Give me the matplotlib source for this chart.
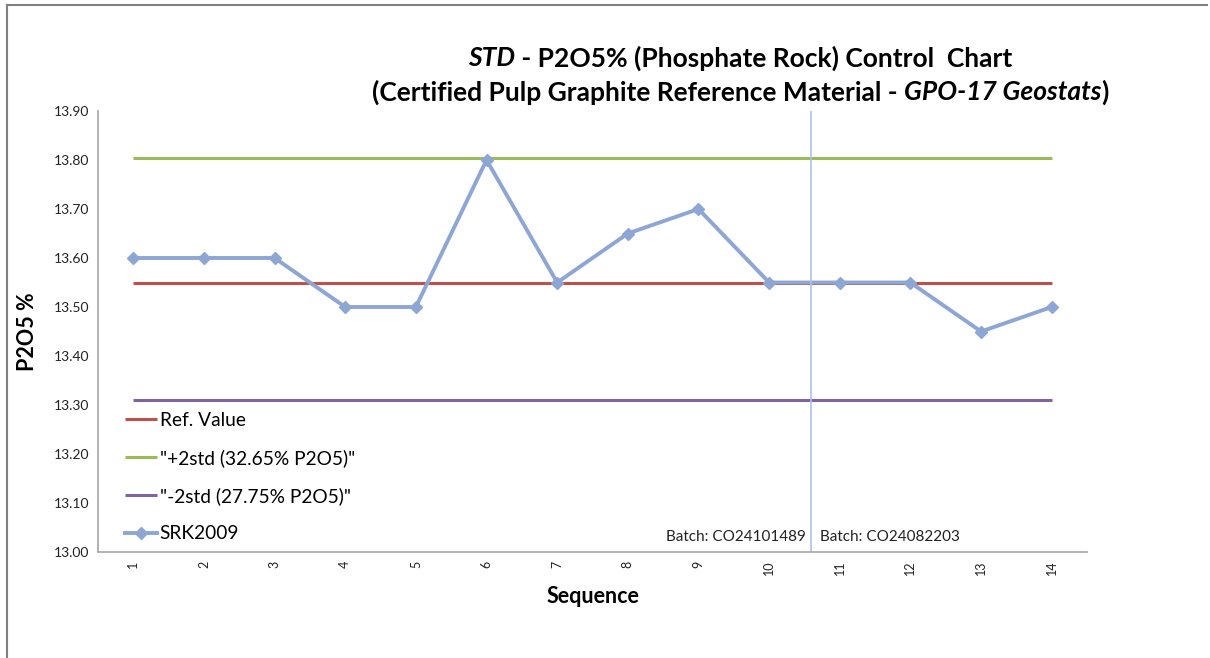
import matplotlib
matplotlib.use("Agg")
import matplotlib.pyplot as plt
from matplotlib.lines import Line2D

plt.rcParams["font.family"] = ["Lato", "DejaVu Sans"]

seq = list(range(1, 15))
srk2009 = [13.60, 13.60, 13.60, 13.50, 13.50, 13.80, 13.55, 13.65, 13.70,
           13.55, 13.55, 13.55, 13.45, 13.50]
ref_value = 13.55
plus_2std = 13.805
minus_2std = 13.31
batch_split = 10.6
batch_labels = ["Batch: CO24101489", "Batch: CO24082203"]
title1 = [("STD", "italic"), (" - P2O5% (Phosphate Rock) Control  Chart", "normal")]
title2 = [("(Certified Pulp Graphite Reference Material - ", "normal"),
          ("GPO-17 Geostats", "italic"), (")", "normal")]

W, H = 1210, 658
fig = plt.figure(figsize=(W / 100, H / 100), dpi=100)
ax = fig.add_axes([98 / W, 1 - 552 / H, (1087 - 98) / W, (552 - 111) / H])

n = len(seq)
ax.plot(seq, [ref_value] * n, color="#C0504D", lw=2.2, label="Ref. Value", solid_capstyle="butt")
ax.plot(seq, [plus_2std] * n, color="#9BBB59", lw=2.2, label='"+2std (32.65% P2O5)"', solid_capstyle="butt")
ax.plot(seq, [minus_2std] * n, color="#8064A2", lw=2.2, label='"-2std (27.75% P2O5)"', solid_capstyle="butt")
ax.plot(seq, srk2009, color="#8DA6D4", lw=2.8, marker="D", ms=6.5, label="SRK2009")

ax.axvline(batch_split, color="#A9C4E8", lw=1.2)
ax.text(batch_split - 0.08, 13.03, batch_labels[0], ha="right", va="center", fontsize=11, color="#222222")
ax.text(batch_split + 0.12, 13.03, batch_labels[1], ha="left", va="center", fontsize=11, color="#222222")

ax.set_xlim(0.5, 14.5)
ax.set_ylim(13.0, 13.9)
ax.set_yticks([13.0 + 0.1 * i for i in range(10)])
ax.set_yticklabels([f"{13.0 + 0.1 * i:.2f}" for i in range(10)], fontsize=10)
ax.set_xticks(seq)
ax.set_xticklabels([str(s) for s in seq], rotation=90, fontsize=9)
ax.tick_params(length=0, pad=6, colors="#222222")

for s in ["top", "right"]:
    ax.spines[s].set_visible(False)
for s in ["left", "bottom"]:
    ax.spines[s].set_color("#A6A6A6")
    ax.spines[s].set_linewidth(1.2)

ax.set_xlabel("Sequence", fontsize=15.5, fontweight="bold", labelpad=8)
ax.set_ylabel("P2O5 %", fontsize=15.5, fontweight="bold", labelpad=12)

leg = ax.legend(loc="lower left", bbox_to_anchor=(27 / 989, 0.022), frameon=False, fontsize=13.8,
                handlelength=1.65, handletextpad=0.15, labelspacing=1.05,
                borderaxespad=0, borderpad=0)


def rich_line(parts, y_px, size):
    r = fig.canvas.get_renderer()
    texts = [fig.text(0, 1 - y_px / H, t, fontsize=size, fontweight="bold", fontstyle=st,
                      va="center", ha="left") for t, st in parts]
    widths = [t.get_window_extent(r).width for t in texts]
    x = 740 - sum(widths) / 2
    for t, w in zip(texts, widths):
        t.set_x(x / W)
        x += w


rich_line(title1, 58, 19)
rich_line(title2, 92, 19)

fig.add_artist(Line2D([7 / W, 7 / W], [0, 1 - 5 / H], color="#808080", lw=1.5))
fig.add_artist(Line2D([7 / W, 1207 / W], [1 - 5 / H, 1 - 5 / H], color="#808080", lw=1.5))

fig.savefig("out.png", dpi=100)
